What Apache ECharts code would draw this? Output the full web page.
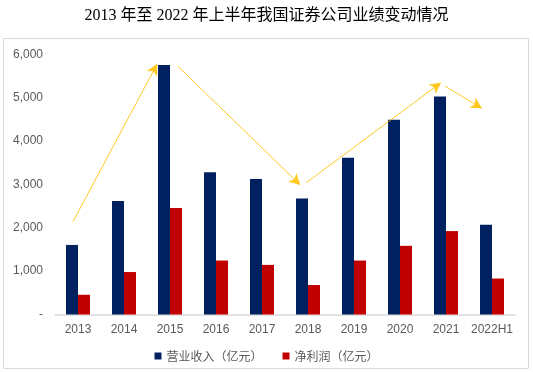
<!DOCTYPE html>
<html><head><meta charset="utf-8">
<script src="https://cdn.jsdelivr.net/npm/echarts@6/dist/echarts.min.js"></script>
<style>html,body{margin:0;padding:0;background:#fff}#c{width:533px;height:372px}</style>
</head><body><div id="c"></div>
<script>
var titleText = '2013 年至 2022 年上半年我国证券公司业绩变动情况';
var categories = ['2013','2014','2015','2016','2017','2018','2019','2020','2021','2022H1'];
var revenue = [1605, 2620, 5760, 3285, 3125, 2675, 3615, 4495, 5030, 2070];
var profit = [455, 980, 2460, 1245, 1145, 680, 1245, 1585, 1925, 830];
var seriesNames = ['营业收入（亿元）', '净利润（亿元）'];
// trend arrows: [startIndex, startValue, endIndex, endValue]
var arrows = [
  [-0.11, 2140, 1.72, 5780],
  [2.17, 5730, 4.83, 2990],
  [4.96, 3040, 7.89, 5350],
  [7.98, 5270, 8.78, 4760]
];

var chart = echarts.init(document.getElementById('c'));
var labelColor = '#595959';
chart.setOption({
  animation: false,
  title: {
    text: titleText, left: 'center', top: 3,
    textStyle: {fontFamily: '"Liberation Serif","Noto Sans CJK SC",serif', fontSize: 16, fontWeight: 'normal', color: '#000'}
  },
  graphic: [
    {type: 'rect', shape: {x: 3.5, y: 38.5, width: 525, height: 330}, style: {fill: 'none', stroke: '#D9D9D9', lineWidth: 1}, silent: true}
  ],
  grid: {left: 55, right: 18, top: 54.5, bottom: 57.5, containLabel: false},
  legend: {
    data: seriesNames, left: 'center', top: 345, icon: 'rect', itemWidth: 7, itemHeight: 7, itemGap: 20,
    textStyle: {color: labelColor, fontSize: 12, fontFamily: '"Noto Sans CJK SC",sans-serif'}
  },
  xAxis: [
    {type: 'category', data: categories,
     axisLine: {lineStyle: {color: '#D9D9D9', width: 1.5}}, axisTick: {show: false},
     axisLabel: {interval: 0, color: labelColor, fontSize: 12, margin: 9, fontFamily: '"Liberation Sans",Arial,sans-serif'}},
    {type: 'value', min: -0.5, max: 9.5, show: false}
  ],
  yAxis: {
    type: 'value', min: 0, max: 6000, interval: 1000,
    splitLine: {show: false}, axisLine: {show: false}, axisTick: {show: false},
    axisLabel: {color: labelColor, fontSize: 12, margin: 12, fontFamily: '"Liberation Sans",Arial,sans-serif',
      formatter: function (v) { return v === 0 ? '-' : v.toLocaleString('en-US'); }}
  },
  series: [
    {name: seriesNames[0], type: 'bar', data: revenue, barWidth: 12, barGap: '0%', itemStyle: {color: '#002060'}},
    {name: seriesNames[1], type: 'bar', data: profit, barWidth: 12, barGap: '0%', itemStyle: {color: '#C00000'}},
    {name: 'arrows', type: 'line', xAxisIndex: 1, data: [], silent: true,
     markLine: {
       silent: true, symbol: ['none', 'arrow'], symbolSize: [9, 11], label: {show: false},
       lineStyle: {color: '#FFC000', width: 1, type: 'solid', opacity: 0.85},
       emphasis: {disabled: true},
       data: arrows.map(function (a) { return [{coord: [a[0], a[1]]}, {coord: [a[2], a[3]]}]; })
     }}
  ]
});
</script></body></html>
